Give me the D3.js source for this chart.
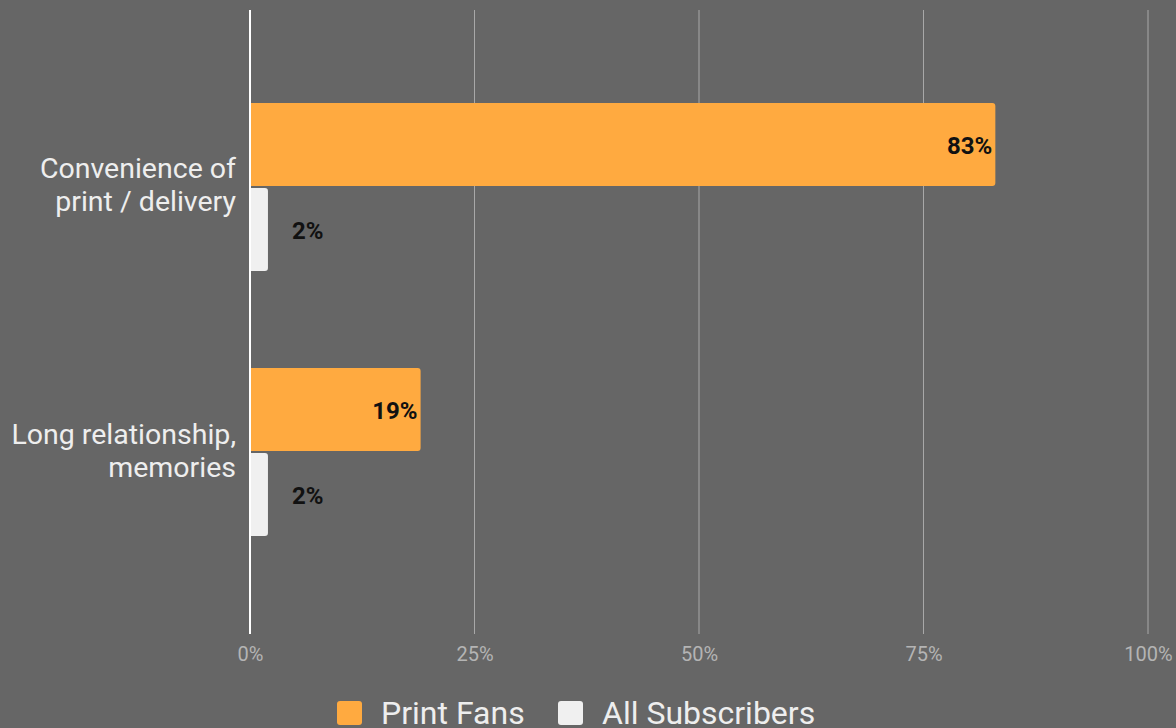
<!DOCTYPE html>
<html>
<head>
<meta charset="utf-8">
<script src="https://cdn.jsdelivr.net/npm/d3@7"></script>
<style>
  html, body { margin: 0; padding: 0; background: #666666; }
  svg { display: block; font-family: Roboto, "Noto Sans", sans-serif; }
</style>
</head>
<body>
<svg id="chart" width="1176" height="728"></svg>
<script>
// Reasons for keeping a print subscription
const categories = [["Convenience of", "print / delivery"], ["Long relationship,", "memories"]];
const seriesNames = ["Print Fans", "All Subscribers"];
const printFans = [83, 19];
const allSubscribers = [2, 2];
const tickValues = [0, 25, 50, 75, 100];
const tickLabels = ["0%", "25%", "50%", "75%", "100%"];
const colors = ["#ffaa40", "#f0f0f0"];

const svg = d3.select("#chart");
const margin = { left: 250, right: 28, top: 10, bottom: 96 };
const W = 1176, H = 728;

const x = d3.scaleLinear().domain([0, 100]).range([margin.left, W - margin.right]);
const catKeys = categories.map((c, i) => i);
const y = d3.scaleBand().domain(catKeys).range([6, 633]).padding(0.366);
const ySub = d3.scaleBand().domain(seriesNames).range([0, y.bandwidth()]).paddingInner(0.024);

const rows = catKeys.map(i => ({ i, values: [printFans[i], allSubscribers[i]] }));

// vertical gridlines
const grid = svg.append("g");
grid.selectAll("line").data(tickValues.slice(1)).join("line")
  .attr("x1", d => x(d)).attr("x2", d => x(d))
  .attr("y1", margin.top).attr("y2", H - margin.bottom + 2)
  .attr("stroke", "#a8a8a8").attr("stroke-width", 1);

// x axis tick labels
const xAxis = d3.axisBottom(x).tickValues(tickValues)
  .tickFormat((d, i) => tickLabels[i]).tickSize(0).tickPadding(13);
const gx = svg.append("g").attr("transform", `translate(0,${H - margin.bottom + 2})`).call(xAxis);
gx.select(".domain").remove();
gx.selectAll("text").attr("fill", "#b4b4b4").attr("font-size", 20)
  .attr("font-family", "Roboto, sans-serif");

// bars
function barPath(x0, y0, w, h, r) {
  r = Math.min(r, w / 2, h / 2);
  return `M${x0},${y0}H${x0 + w - r}Q${x0 + w},${y0} ${x0 + w},${y0 + r}` +
         `V${y0 + h - r}Q${x0 + w},${y0 + h} ${x0 + w - r},${y0 + h}H${x0}Z`;
}

const groups = svg.append("g").selectAll("g").data(rows).join("g")
  .attr("transform", d => `translate(0,${y(d.i)})`);

groups.each(function(row) {
  const g = d3.select(this);
  row.values.forEach((v, k) => {
    const name = seriesNames[k];
    const y0 = ySub(name), h = ySub.bandwidth();
    g.append("path")
      .attr("d", barPath(x(0), y0, x(v) - x(0), h, 3))
      .attr("fill", colors[k]);
    const inside = (x(v) - x(0)) > 60;
    g.append("text")
      .attr("x", inside ? x(v) - 3 : x(v) + 24)
      .attr("y", y0 + h / 2)
      .attr("dy", "0.38em")
      .attr("text-anchor", inside ? "end" : "start")
      .attr("font-size", 24).attr("font-weight", "bold")
      .attr("fill", "#111111")
      .text(v + "%");
  });
});

// baseline
svg.append("line")
  .attr("x1", x(0)).attr("x2", x(0))
  .attr("y1", margin.top).attr("y2", H - margin.bottom + 2)
  .attr("stroke", "#ffffff").attr("stroke-width", 2);

// category labels
const labels = svg.append("g").selectAll("text").data(rows).join("text")
  .attr("text-anchor", "end")
  .attr("fill", "#eeeeee")
  .attr("font-size", 28.5);
labels.each(function(row) {
  const t = d3.select(this);
  const lines = categories[row.i];
  const cy = y(row.i) + y.bandwidth() / 2;
  lines.forEach((ln, j) => {
    t.append("tspan")
      .attr("x", 236)
      .attr("y", cy + 8 + (j - (lines.length - 1) / 2) * 33)
      .text(ln);
  });
});

// legend
const legend = svg.append("g").attr("transform", "translate(337,701)");
const legendX = [0, 221];
seriesNames.forEach((name, k) => {
  const lg = legend.append("g").attr("transform", `translate(${legendX[k]},0)`);
  lg.append("rect").attr("width", 25).attr("height", 24).attr("rx", 3)
    .attr("fill", colors[k]);
  lg.append("text").attr("x", 44).attr("y", 23)
    .attr("font-size", 32).attr("fill", "#eeeeee")
    .text(name);
});
</script>
</body>
</html>
